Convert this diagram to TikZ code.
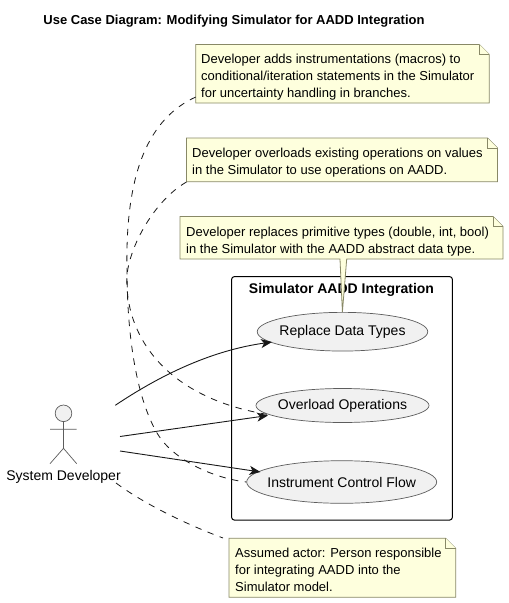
\documentclass[tikz,border=0pt]{standalone}
\usepackage{fontspec}
\setmainfont{Liberation Sans}
\usetikzlibrary{arrows.meta,shapes.geometric}
\definecolor{notefill}{HTML}{FEFFDD}
\definecolor{notedraw}{HTML}{888866}
\definecolor{ucfill}{HTML}{F1F1F1}
\definecolor{ink}{HTML}{181818}
\tikzset{
  x=1pt,y=-1pt,
  notebody/.style={draw=notedraw,fill=notefill,line width=0.8pt,line join=miter},
  notetext/.style={anchor=north west,inner sep=0pt,font=\fontsize{13}{16.6}\selectfont,align=left,text=black},
  usecase/.style={ellipse,draw=ink!70,fill=ucfill,line width=0.7pt,inner sep=0pt,font=\fontsize{14}{16}\selectfont,text=black},
  flow/.style={draw=ink,line width=0.9pt,-{Stealth[length=11pt,width=9pt,inset=3pt]}},
  link/.style={draw=ink,line width=0.8pt,dash pattern=on 6.5pt off 6.5pt},
  actorline/.style={draw=ink!70,line width=0.7pt},
}
\newcommand{\notebox}[4]{%
  \path[notebody] (#1,#3) -- (#2-10,#3) -- (#2,#3+10) -- (#2,#4) -- (#1,#4) -- cycle;
  \path[notebody] (#2-10,#3) -- (#2-10,#3+10) -- (#2,#3+10);
}
\begin{document}
\begin{tikzpicture}
\useasboundingbox (0,0) rectangle (509,603);
\fill[white] (0,0) rectangle (509,603);
\node[inner sep=0pt,font=\bfseries\fontsize{13}{16}\selectfont] (title) at (234,21.3) {Use Case Diagram: Modifying Simulator for AADD Integration};
% package
\draw[draw=black,line width=1pt,rounded corners=2.5pt] (231.7,276.7) rectangle (452.3,520);
\node[inner sep=0pt,font=\bfseries\fontsize{14}{16}\selectfont] (pkg) at (341.5,289.5) {Simulator AADD Integration};
% note 3 with tail
\path[notebody] (180,216.5) -- (493,216.5) -- (503,226.5) -- (503,259) -- (346.7,259) -- (342.4,312) -- (340,259) -- (180,259) -- cycle;
\path[notebody] (493,216.5) -- (493,226.5) -- (503,226.5);
\node[notetext] (n3) at (186,227.3) {Developer replaces primitive types (double, int, bool)\\in the Simulator with the AADD abstract data type.};
% note 1,2,4
\notebox{195.7}{489.3}{44.5}{103}
\node[notetext] (n1) at (201,54.3) {Developer adds instrumentations (macros) to\\conditional/iteration statements in the Simulator\\for uncertainty handling in branches.};
\notebox{186.5}{497.5}{138}{181.7}
\node[notetext] (n2) at (192,148.3) {Developer overloads existing operations on values\\in the Simulator to use operations on AADD.};
\notebox{229}{455.7}{538.3}{597.3}
\node[notetext] (n4) at (235,548.3) {Assumed actor: Person responsible\\for integrating AADD into the\\Simulator model.};
% use cases
\node[usecase,minimum width=170.5pt,minimum height=38.7pt] (uc1) at (342.5,331.7) {\makebox[0pt]{Replace Data Types}};
\node[usecase,minimum width=173pt,minimum height=34pt] (uc2) at (342.5,405.5) {\makebox[0pt]{\raisebox{-0.7pt}{Overload Operations}}};
\node[usecase,minimum width=190pt,minimum height=42.6pt] (uc3) at (341.7,482) {\makebox[0pt]{Instrument Control Flow}};
% actor
\draw[actorline,fill=ucfill] (63.5,413.3) circle (8.3);
\coordinate (neck) at (63.5,421.6);
\coordinate (hip) at (63.5,448.3);
\draw[actorline] (neck) -- (hip) (50,429.3) -- (76.7,429.3) (50,463.7) -- (hip) -- (76.7,463.7);
\node[inner sep=0pt,font=\fontsize{14}{16}\selectfont] (actor) at (63.5,476.6) {System Developer};
\coordinate (a1) at (115.3,405.3);
\coordinate (a2) at (120,436.5);
\coordinate (a3) at (120,451);
\coordinate (a4) at (116,483);
% flows
\draw[flow] (a1) .. controls (165,372) and (215,350) .. (272,342);
\draw[flow] (a2) -- (268,415.5);
\draw[flow] (a3) -- (260.5,472);
% dashed links
\coordinate (l1) at (195.7,97);
\coordinate (l2) at (186.5,182);
\draw[link] (l1) .. controls (150,118) and (125,170) .. (127,270) .. controls (127,330) and (135,395) .. (157,433) .. controls (172,459) and (212,478) .. (uc3.west);
\draw[link] (l2) .. controls (155,200) and (130,245) .. (127,275) .. controls (124,335) and (165,398) .. (uc2.187);
\draw[link] (a4) .. controls (143,503) and (183,523) .. (223,538);
\end{tikzpicture}
\end{document}
